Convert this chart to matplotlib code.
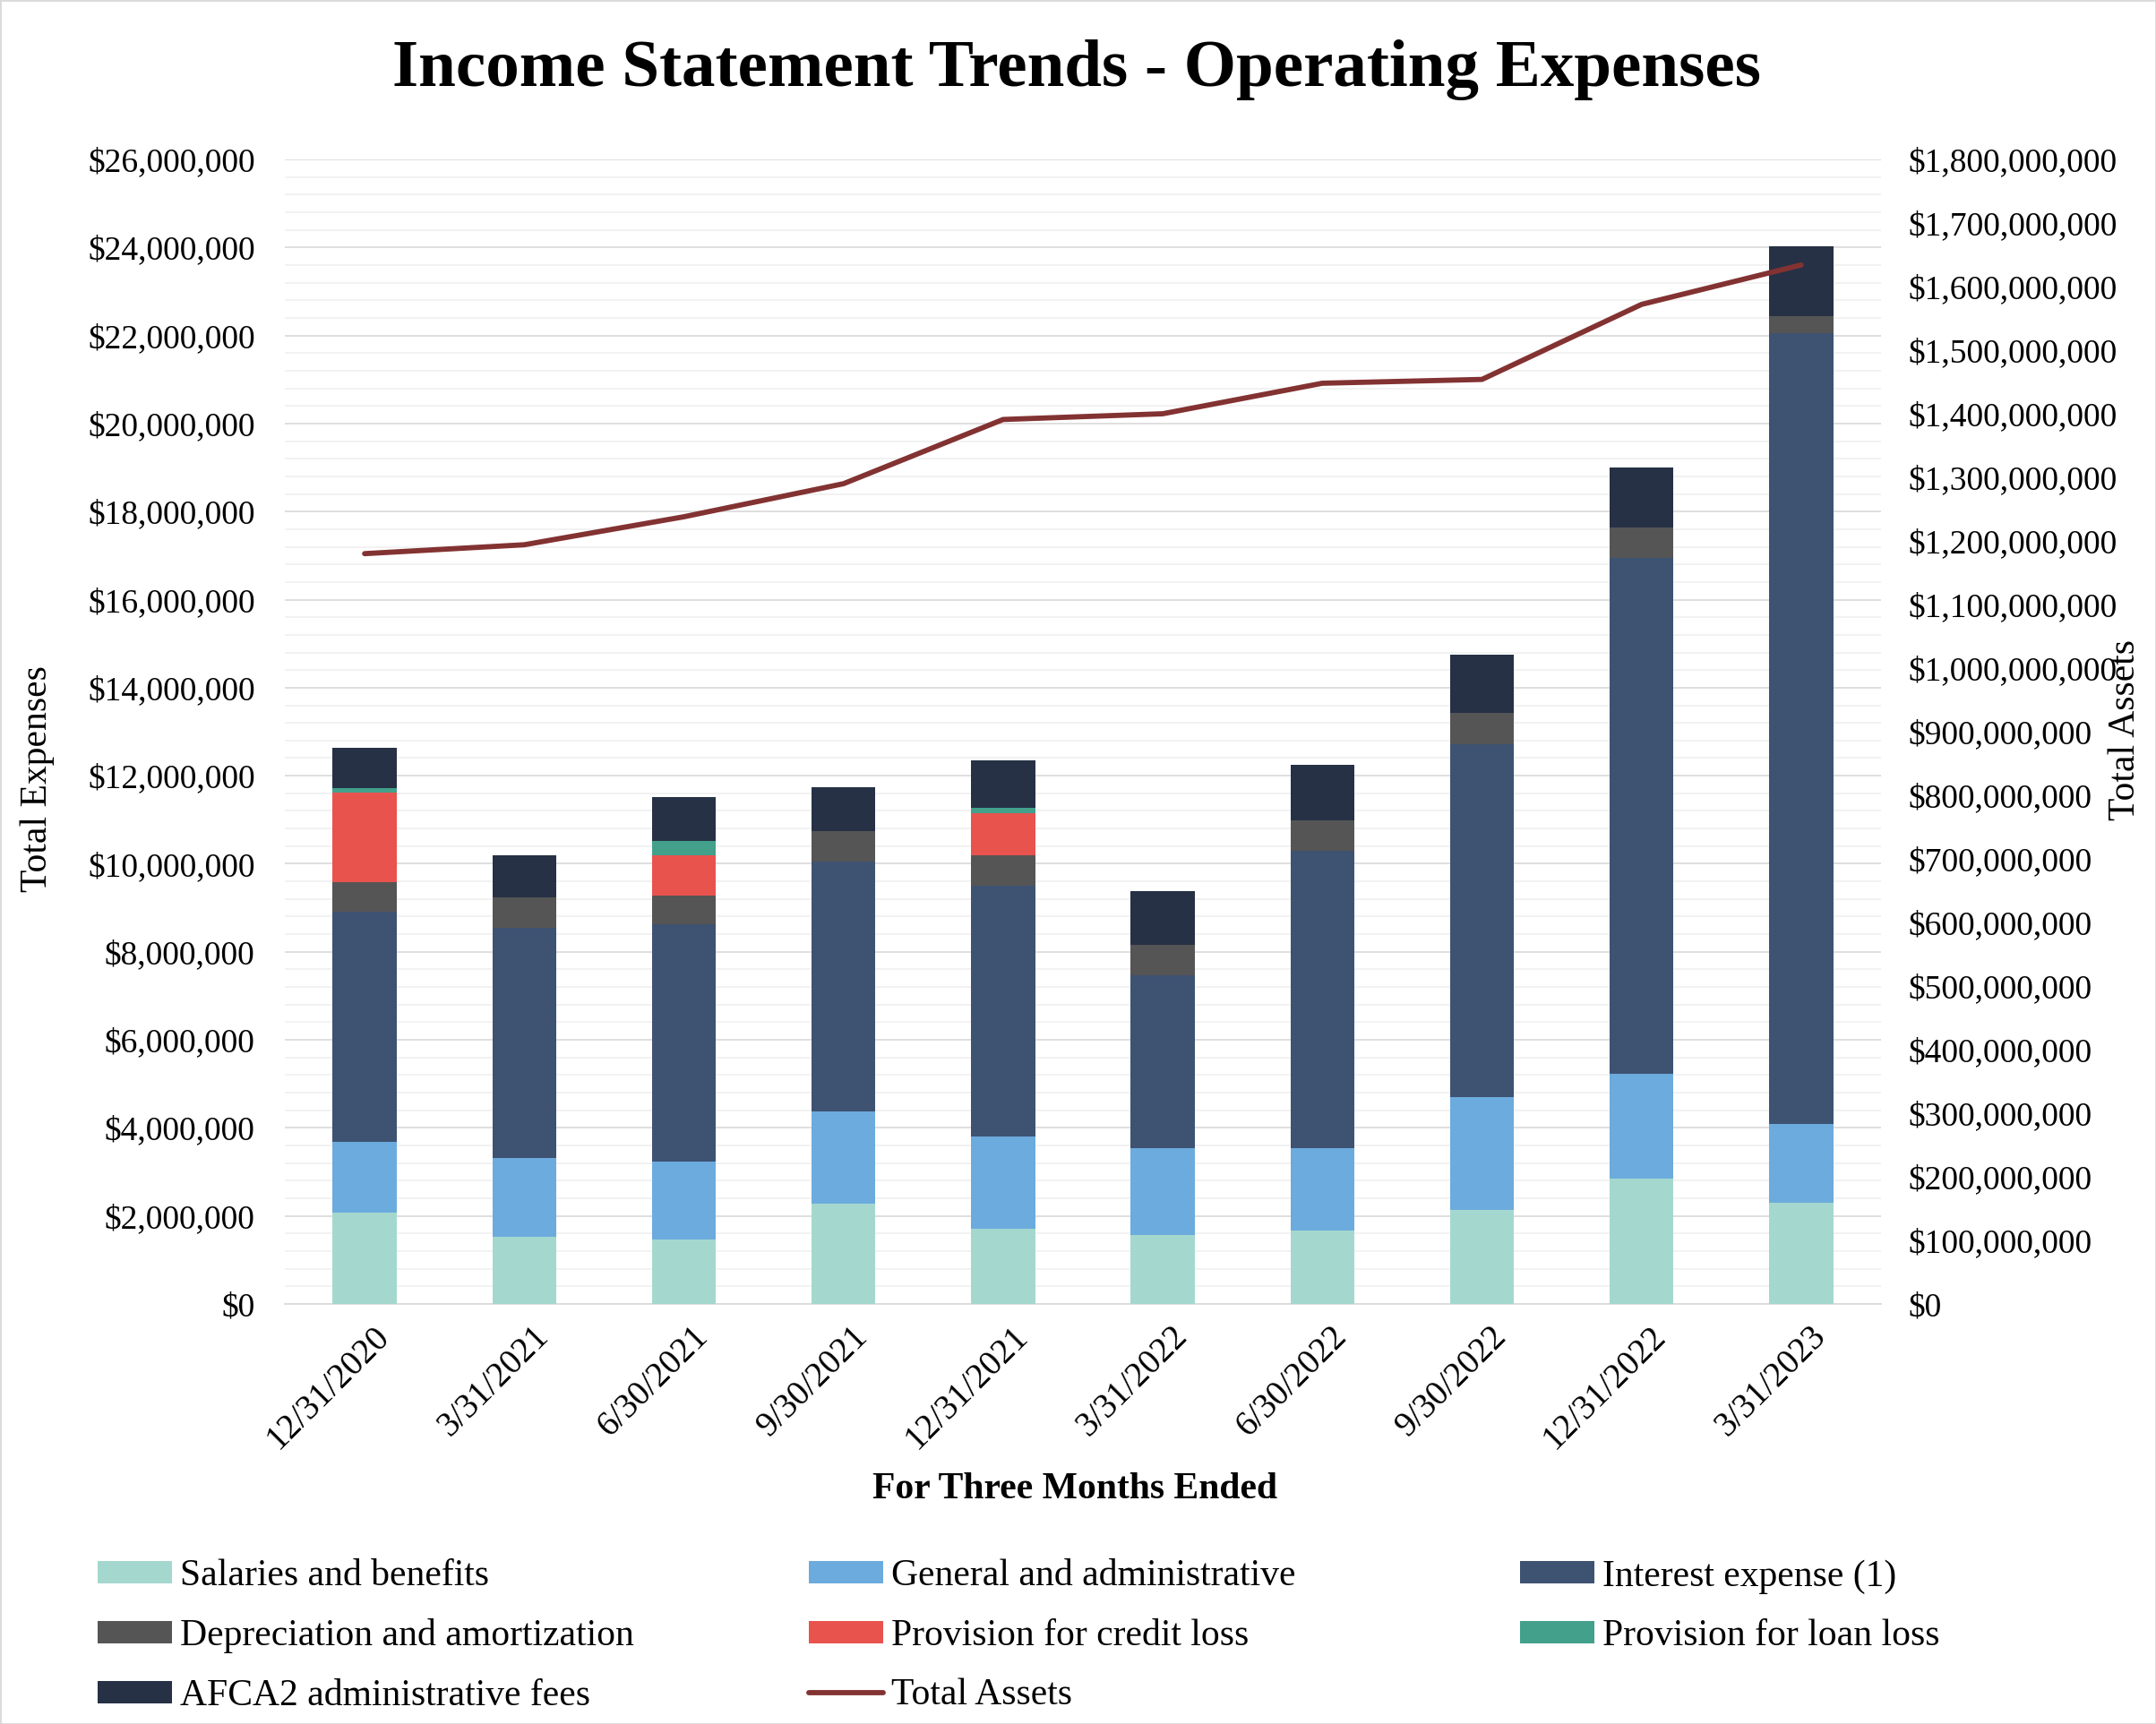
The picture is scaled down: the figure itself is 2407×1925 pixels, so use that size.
import matplotlib
matplotlib.use('Agg')
import matplotlib.pyplot as plt
import matplotlib.ticker as mticker
import matplotlib.transforms as mtransforms
from matplotlib.patches import Rectangle
import numpy as np

periods = ['12/31/2020', '3/31/2021', '6/30/2021', '9/30/2021', '12/31/2021',
           '3/31/2022', '6/30/2022', '9/30/2022', '12/31/2022', '3/31/2023']

salaries = [2080000, 1530000, 1470000, 2270000, 1700000, 1570000, 1670000, 2140000, 2840000, 2300000]
general_admin = [1600000, 1790000, 1770000, 2110000, 2110000, 1960000, 1860000, 2550000, 2380000, 1780000]
interest = [5230000, 5230000, 5380000, 5680000, 5700000, 3930000, 6770000, 8030000, 11730000, 17980000]
depreciation = [670000, 690000, 650000, 690000, 690000, 700000, 680000, 700000, 680000, 380000]
credit_loss = [2030000, 0, 920000, 0, 950000, 0, 0, 0, 0, 0]
loan_loss = [100000, 0, 320000, 0, 130000, 0, 0, 0, 0, 0]
afca2_fees = [930000, 960000, 1000000, 980000, 1070000, 1210000, 1270000, 1330000, 1380000, 1590000]

total_assets = [1180000000, 1194000000, 1238000000, 1290000000, 1391000000,
                1400000000, 1448000000, 1454000000, 1572000000, 1634000000]

series = [
    ('Salaries and benefits', salaries, '#A4D8CE'),
    ('General and administrative', general_admin, '#6CABDD'),
    ('Interest expense (1)', interest, '#3E5272'),
    ('Depreciation and amortization', depreciation, '#555555'),
    ('Provision for credit loss', credit_loss, '#E8534E'),
    ('Provision for loan loss', loan_loss, '#42A08B'),
    ('AFCA2 administrative fees', afca2_fees, '#263145'),
]

plt.rcParams['font.family'] = ['Liberation Serif', 'DejaVu Serif']

W, H = 2407, 1925
fig = plt.figure(figsize=(W / 100, H / 100), dpi=100)
ax = fig.add_axes([318 / W, 1 - 1456 / H, (2100 - 318) / W, (1456 - 178) / H])

x = np.arange(len(periods))
bottom = np.zeros(len(periods))
handles = {}
for name, vals, color in series:
    vals = np.array(vals, dtype=float)
    b = ax.bar(x, vals, 0.4, bottom=bottom, color=color, label=name, zorder=3)
    handles[name] = b
    bottom += vals

ax.set_xlim(-0.5, len(periods) - 0.5)
ax.set_ylim(0, 26000000)
ax.yaxis.set_major_locator(mticker.MultipleLocator(2000000))
ax.yaxis.set_minor_locator(mticker.MultipleLocator(400000))
ax.yaxis.set_major_formatter(mticker.FuncFormatter(lambda v, p: '${:,.0f}'.format(v)))
ax.grid(axis='y', which='major', color='#D9D9D9', linewidth=1.2, zorder=0)
ax.grid(axis='y', which='minor', color='#F0F0F0', linewidth=1.2, zorder=0)
ax.set_axisbelow(True)
for s in ['top', 'right', 'left']:
    ax.spines[s].set_visible(False)
ax.spines['bottom'].set_color('#D9D9D9')
ax.spines['bottom'].set_linewidth(1.2)
ax.tick_params(axis='y', which='both', length=0, labelsize=27, pad=24)
ax.tick_params(axis='x', length=0, labelsize=28, pad=22)
ax.set_xticks(x)
ax.set_xticklabels(periods, rotation=45, ha='right', va='center', rotation_mode='anchor')
offset = mtransforms.ScaledTranslation(22 / 100, 0, fig.dpi_scale_trans)
for lbl in ax.get_xticklabels():
    lbl.set_transform(lbl.get_transform() + offset)

ax2 = ax.twinx()
line, = ax2.plot(x, total_assets, color='#833232', linewidth=4.2, label='Total Assets',
                 solid_capstyle='round', zorder=5)
ax2.set_ylim(0, 1800000000)
ax2.yaxis.set_major_locator(mticker.MultipleLocator(100000000))
ax2.yaxis.set_major_formatter(mticker.FuncFormatter(lambda v, p: '${:,.0f}'.format(v)))
ax2.tick_params(axis='y', length=0, labelsize=27, pad=22)
for s in ax2.spines.values():
    s.set_visible(False)

fig.text(0.4994, 1 - 78 / H, 'Income Statement Trends - Operating Expenses',
         fontsize=54, fontweight='bold', ha='center', va='center')
fig.text(42 / W, 1 - 870 / H, 'Total Expenses', fontsize=30, rotation=90,
         ha='center', va='center')
fig.text(2373 / W, 1 - 815 / H, 'Total Assets', fontsize=30, rotation=90,
         ha='center', va='center')
fig.text(1200 / W, 1 - 1663 / H, 'For Three Months Ended', fontsize=30,
         fontweight='bold', ha='center', va='center')

legend_cols = [
    (109, ['Salaries and benefits', 'Depreciation and amortization', 'AFCA2 administrative fees']),
    (903, ['General and administrative', 'Provision for credit loss', 'Total Assets']),
    (1697, ['Interest expense (1)', 'Provision for loan loss']),
]
for left, names in legend_cols:
    hs = [line if n == 'Total Assets' else handles[n] for n in names]
    leg = fig.legend(hs, names, loc='upper left', bbox_to_anchor=(left / W, 1 - 1741 / H),
                     frameon=False, fontsize=30, ncol=1, borderpad=0, borderaxespad=0,
                     handlelength=2.0, handleheight=0.55, handletextpad=0.2, labelspacing=0.67)

fig.patches.append(Rectangle((0, 0), 1, 1, transform=fig.transFigure, fill=False,
                             edgecolor='#D9D9D9', linewidth=2))

fig.savefig('out.png', dpi=100)
